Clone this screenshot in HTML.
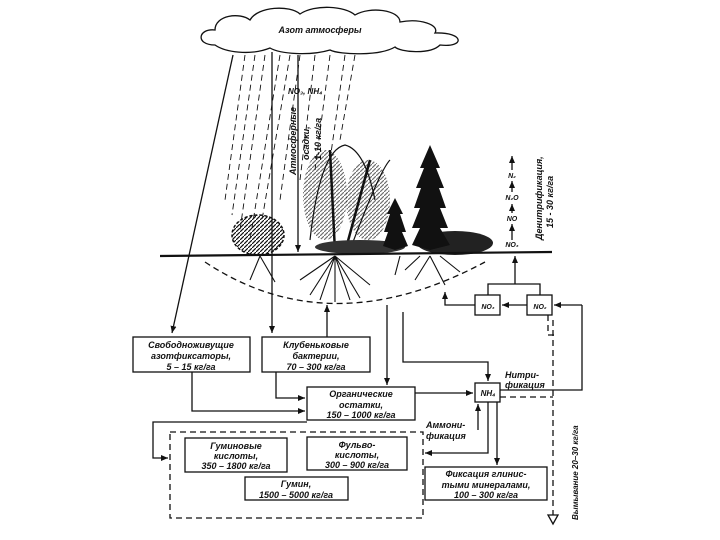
<!DOCTYPE html>
<html><head><meta charset="utf-8"><style>
body{margin:0;background:#fff}
svg{display:block}
text{font-family:"Liberation Sans","DejaVu Sans",sans-serif;font-style:italic;font-weight:bold;fill:#111}
</style></head><body>
<svg width="720" height="540" viewBox="0 0 720 540" xmlns="http://www.w3.org/2000/svg">
<defs>
<marker id="a" markerWidth="8" markerHeight="8" refX="7" refY="4" orient="auto" markerUnits="userSpaceOnUse"><path d="M0,1 L7,4 L0,7 z" fill="#111"/></marker>
<pattern id="p" width="4" height="4" patternUnits="userSpaceOnUse"><path d="M0,4 L4,0" stroke="#111" stroke-width="1.2"/></pattern>
</defs>
<g stroke="#111" fill="none" stroke-width="1.3">
<path d="M215,45 C195,45 198,28 215,30 C215,15 240,12 250,20 C258,6 290,5 300,14 C315,4 345,6 355,15 C370,6 400,10 400,22 C420,18 440,25 435,33 C465,32 465,48 440,45 C430,55 400,52 395,47 C380,56 340,55 330,50 C310,56 280,54 270,48 C250,56 225,52 215,45 z" fill="#fff"/>
<g stroke-dasharray="6,4" stroke-width="0.9">
<path d="M245,55 L225,200"/><path d="M255,55 L232,215"/><path d="M265,55 L240,230"/><path d="M280,55 L250,240"/><path d="M300,55 L280,200"/><path d="M315,55 L300,180"/><path d="M330,55 L315,170"/><path d="M345,55 L330,160"/><path d="M355,55 L340,140"/><path d="M290,55 L262,220"/>
</g>
<path d="M205,262 Q330,345 485,262" stroke-dasharray="6,4"/>
<path d="M233,55 L172,333" marker-end="url(#a)"/>
<path d="M272,52 L272,333" marker-end="url(#a)"/>
<path d="M298,55 L298,252" marker-end="url(#a)"/>
<path d="M512,240 L512,224" marker-end="url(#a)"/>
<path d="M512,213 L512,204" marker-end="url(#a)"/>
<path d="M512,192 L512,181" marker-end="url(#a)"/>
<path d="M512,170 L512,156" marker-end="url(#a)"/>
<rect x="475" y="295" width="25" height="20" fill="#fff"/>
<rect x="527" y="295" width="25" height="20" fill="#fff"/>
<path d="M488,295 L488,284 L540,284 L540,295"/>
<path d="M515,284 L515,256" marker-end="url(#a)"/>
<path d="M527,305 L502,305" marker-end="url(#a)"/>
<path d="M475,305 L445,305 L445,292" marker-end="url(#a)"/>
<path d="M582,305 L554,305" marker-end="url(#a)"/>
<path d="M582,305 L582,390 L500,390"/>
<rect x="133" y="337" width="117" height="35" fill="#fff"/>
<rect x="262" y="337" width="108" height="35" fill="#fff"/>
<rect x="307" y="387" width="108" height="33" fill="#fff"/>
<rect x="475" y="383" width="25" height="19" fill="#fff"/>
<rect x="185" y="438" width="102" height="34" fill="#fff"/>
<rect x="307" y="437" width="100" height="33" fill="#fff"/>
<rect x="245" y="477" width="103" height="23" fill="#fff"/>
<rect x="425" y="467" width="122" height="33" fill="#fff"/>
<rect x="170" y="432" width="253" height="86" stroke-dasharray="6,4"/>
<path d="M327,337 L327,305" marker-end="url(#a)"/>
<path d="M387,305 L387,385" marker-end="url(#a)"/>
<path d="M403,312 L403,362 L488,362 L488,381" marker-end="url(#a)"/>
<path d="M192,372 L192,411 L305,411" marker-end="url(#a)"/>
<path d="M276,372 L276,398 L305,398" marker-end="url(#a)"/>
<path d="M415,393 L473,393" marker-end="url(#a)"/>
<path d="M307,422 L153,422 L153,458 L168,458" marker-end="url(#a)"/>
<path d="M488,402 L488,453 L425,453" marker-end="url(#a)"/>
<path d="M497,402 L497,465" marker-end="url(#a)"/>
<path d="M478,430 L478,404" marker-end="url(#a)"/>
<g stroke-dasharray="6,4">
<path d="M500,397 L553,397"/>
<path d="M553,320 L553,515"/>
<path d="M548,315 L548,335 L558,335"/>
</g>
<path d="M548,515 L558,515 L553,524 z" fill="#fff"/>
</g>
<!-- vegetation -->
<g>
<ellipse cx="258" cy="235" rx="26" ry="20" fill="url(#p)" stroke="#111" stroke-width="1.5" stroke-dasharray="3,2"/>
<ellipse cx="325" cy="195" rx="22" ry="45" fill="url(#p)" opacity="0.6"/>
<ellipse cx="368" cy="200" rx="22" ry="40" fill="url(#p)" opacity="0.6"/>
<path d="M310,240 Q320,150 345,145 Q365,150 375,200 M350,250 Q380,170 390,160" stroke="#111" stroke-width="1.2" fill="none"/>
<path d="M330,150 L335,252 M370,160 L345,252" stroke="#111" stroke-width="2.5"/>
<ellipse cx="455" cy="243" rx="38" ry="12" fill="#222"/>
<ellipse cx="360" cy="247" rx="45" ry="7" fill="#333"/>
<path d="M430,250 L412,245 L420,228 L412,228 L420,208 L414,208 L421,188 L416,188 L424,168 L420,168 L430,145 L440,168 L436,168 L444,188 L439,188 L446,208 L440,208 L448,228 L440,228 L450,245 z" fill="#111"/>
<path d="M395,250 L383,246 L388,232 L384,232 L390,214 L387,214 L395,198 L403,214 L400,214 L406,232 L402,232 L408,246 z" fill="#111"/>
</g>
<path d="M160,256 L552,252" stroke="#111" stroke-width="2.2"/>
<g stroke="#111" fill="none" stroke-width="1.1">
<path d="M335,256 L320,300 M335,256 L350,300 M335,256 L300,280 M335,256 L370,285 M335,256 L335,302 M335,256 L310,295 M335,256 L360,298 M260,256 L250,280 M260,256 L275,282 M430,256 L415,280 M430,256 L445,285 M400,256 L395,275 M440,256 L460,272 M420,256 L405,270"/>
</g>
<g font-size="9">
<text x="320" y="33" text-anchor="middle">Азот атмосферы</text>
<text x="288" y="94" font-style="normal" font-size="8">NO₃, NH₄</text>
<text transform="translate(296,175) rotate(-90)">Атмосферные</text>
<text transform="translate(309,160) rotate(-90)">осадки,</text>
<text transform="translate(321,160) rotate(-90)">1-10 кг/га</text>
<text transform="translate(542,240) rotate(-90)">Денитрификация,</text>
<text transform="translate(553,228) rotate(-90)">15 - 30 кг/га</text>
<g font-style="normal" font-size="7" text-anchor="middle">
<text x="512" y="178">N₂</text><text x="512" y="200">N₂O</text><text x="512" y="221">NO</text><text x="512" y="247">NO₃</text>
<text x="488" y="309">NO₃</text><text x="540" y="309">NO₂</text><text x="488" y="396" font-size="8">NH₄</text>
</g>
<g text-anchor="middle">
<text x="191" y="348">Свободноживущие</text><text x="191" y="359">азотфиксаторы,</text><text x="191" y="370">5 – 15 кг/га</text>
<text x="316" y="348">Клубеньковые</text><text x="316" y="359">бактерии,</text><text x="316" y="370">70 – 300 кг/га</text>
<text x="361" y="397">Органические</text><text x="361" y="408">остатки,</text><text x="361" y="418">150 – 1000 кг/га</text>
<text x="236" y="449">Гуминовые</text><text x="236" y="459">кислоты,</text><text x="236" y="469">350 – 1800 кг/га</text>
<text x="357" y="448">Фульво-</text><text x="357" y="458">кислоты,</text><text x="357" y="468">300 – 900 кг/га</text>
<text x="296" y="487">Гумин,</text><text x="296" y="498">1500 – 5000 кг/га</text>
<text x="486" y="477">Фиксация глинис-</text><text x="486" y="488">тыми минералами,</text><text x="486" y="498">100 – 300 кг/га</text>
</g>
<text x="505" y="378">Нитри-</text><text x="505" y="388">фикация</text>
<text x="426" y="428">Аммони-</text><text x="426" y="439">фикация</text>
<text transform="translate(578,520) rotate(-90)" font-style="normal" font-weight="normal" font-size="8">Вымывание  20–30 кг/га</text>
</g>
</svg>
</body></html>
